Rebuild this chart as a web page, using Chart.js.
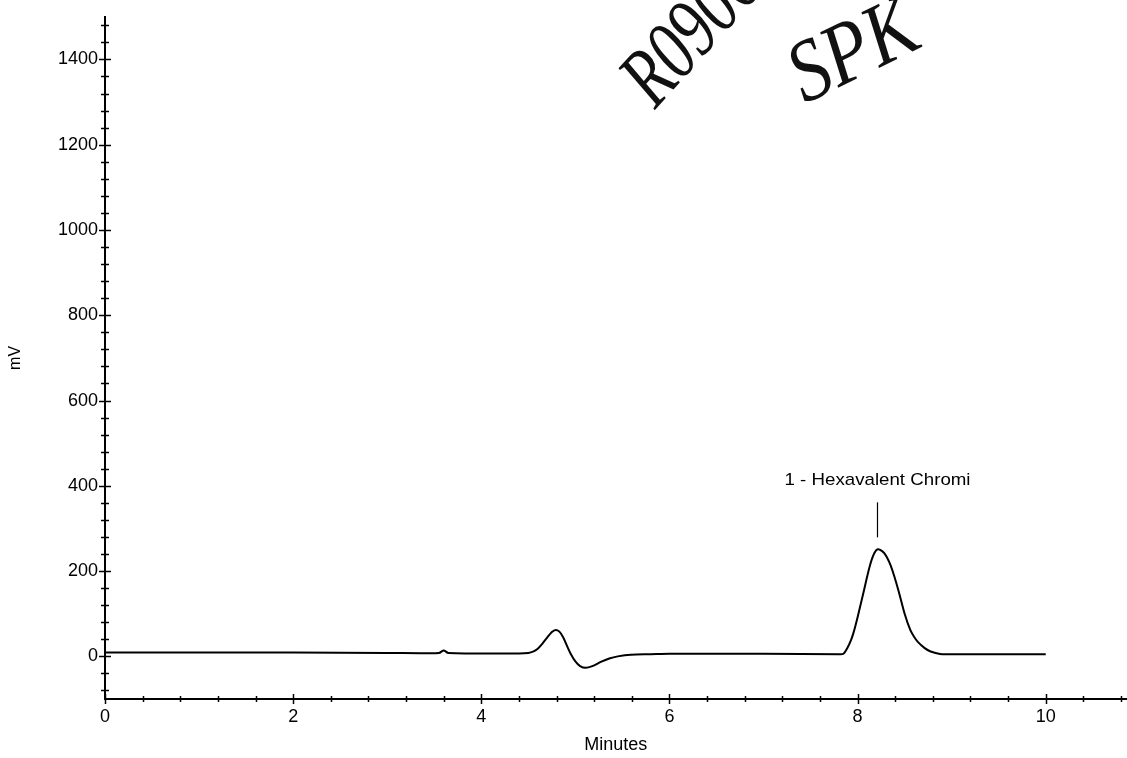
<!DOCTYPE html>
<html>
<head>
<meta charset="utf-8">
<script src="https://cdn.jsdelivr.net/npm/chart.js@4.4.1/dist/chart.umd.min.js"></script>
<style>
  html, body { margin: 0; padding: 0; background: #ffffff; }
  #wrap { width: 1127px; height: 758px; position: relative; }
</style>
</head>
<body>
<div id="wrap"><canvas id="c" width="1127" height="758"></canvas></div>
<script>
// ---- data ----
const times  = [0, 1, 2, 3, 3.55, 3.6, 3.65, 4.4, 4.5, 4.55, 4.6, 4.65, 4.7, 4.75, 4.79, 4.83, 4.87, 4.91, 4.95, 5.0, 5.05, 5.11, 5.18, 5.27, 5.36, 5.45, 5.59, 5.8, 6, 7, 7.8, 7.85, 7.89, 7.93, 7.96, 8.0, 8.05, 8.09, 8.12, 8.15, 8.18, 8.21, 8.24, 8.28, 8.31, 8.35, 8.39, 8.44, 8.5, 8.56, 8.6, 8.64, 8.71, 8.77, 8.83, 8.9, 9.5, 10];
const signal = [9, 9, 9, 8, 8, 14, 8, 7, 8, 11, 18, 30, 44, 57, 62, 58, 45, 25, 6, -12, -23, -27, -23, -13, -5, 0, 4, 5, 6, 6, 5, 6, 19, 38, 58, 92, 138, 176, 204, 227, 243, 251, 250, 243, 233, 214, 188, 150, 100, 62, 46, 34, 20, 12, 8, 5, 5, 5];

const yTickLabels = ['0', '200', '400', '600', '800', '1000', '1200', '1400'];
const xTickLabels = ['0', '2', '4', '6', '8', '10'];
const yMinorStep = 40;
const xMinorStep = 0.4;

const peakName = '1 - Hexavalent Chromi';
const peakTime = 8.22;
const peakValue = 251;

const xAxisTitle = 'Minutes';
const yAxisTitle = 'mV';
const handNote1 = 'R0906';
const handNote2 = 'SPK';

const FONT = '"Liberation Sans", Arial, sans-serif';

// ---- plugins ----
const crossTicks = {
  id: 'crossTicks',
  afterDraw(chart) {
    const ctx = chart.ctx;
    const xs = chart.scales.x, ys = chart.scales.y;
    ctx.save();
    ctx.strokeStyle = '#000';
    ctx.lineWidth = 1.5;
    ys.ticks.forEach(t => {
      const major = yTickLabels.includes(String(t.value));
      const py = Math.round(ys.getPixelForValue(t.value)) + 0.5;
      const h = major ? 6 : 4;
      ctx.beginPath();
      ctx.moveTo(xs.left - h, py);
      ctx.lineTo(xs.left + h, py);
      ctx.stroke();
    });
    xs.ticks.forEach(t => {
      const lbl = String(Math.round(t.value * 10) / 10);
      const major = xTickLabels.includes(lbl);
      const px = Math.round(xs.getPixelForValue(t.value)) + 0.5;
      const h = major ? 5 : 3;
      ctx.beginPath();
      ctx.moveTo(px, ys.bottom - h);
      ctx.lineTo(px, ys.bottom + h);
      ctx.stroke();
    });
    ctx.restore();
  }
};

const peakLabel = {
  id: 'peakLabel',
  afterDatasetsDraw(chart) {
    const ctx = chart.ctx;
    const xs = chart.scales.x, ys = chart.scales.y;
    const px = Math.round(xs.getPixelForValue(peakTime)) - 0.5;
    const py = ys.getPixelForValue(peakValue);
    ctx.save();
    ctx.strokeStyle = '#000';
    ctx.lineWidth = 1.2;
    ctx.beginPath();
    ctx.moveTo(px, py - 12);
    ctx.lineTo(px, py - 47);
    ctx.stroke();
    ctx.fillStyle = '#000';
    ctx.font = '17px ' + FONT;
    ctx.textAlign = 'center';
    ctx.textBaseline = 'alphabetic';
    ctx.save();
    ctx.translate(px, py - 64);
    ctx.scale(1.1, 1);
    ctx.fillText(peakName, 0, 0);
    ctx.restore();
    ctx.restore();
  }
};

const handwriting = {
  id: 'handwriting',
  afterDraw(chart) {
    const ctx = chart.ctx;
    ctx.save();
    ctx.fillStyle = '#111';
    ctx.textBaseline = 'alphabetic';
    ctx.save();
    ctx.font = 'italic 84px "Liberation Serif", serif';
    ctx.translate(655, 110);
    ctx.rotate(-48 * Math.PI / 180);
    ctx.scale(0.75, 1);
    ctx.fillText(handNote1, 0, 0);
    ctx.restore();
    ctx.save();
    ctx.font = 'italic 88px "Liberation Serif", serif';
    ctx.translate(805, 104);
    ctx.rotate(-26 * Math.PI / 180);
    ctx.scale(0.85, 1);
    ctx.fillText(handNote2, 0, 0);
    ctx.restore();
    ctx.restore();
  }
};

const points = times.map((t, i) => ({ x: t, y: signal[i] }));

new Chart(document.getElementById('c'), {
  type: 'line',
  data: {
    datasets: [{
      data: points,
      borderColor: '#000',
      borderWidth: 2,
      pointRadius: 0,
      fill: false,
      tension: 0.3
    }]
  },
  options: {
    responsive: false,
    animation: false,
    events: [],
    layout: { padding: { left: 0, right: 0, top: 12, bottom: 0 } },
    plugins: { legend: { display: false }, tooltip: { enabled: false }, title: { display: false } },
    scales: {
      x: {
        type: 'linear',
        min: 0,
        max: 10.86,
        afterFit(scale) { scale.height = 59; },
        afterBuildTicks(scale) {
          const arr = [];
          for (let k = 0; k * xMinorStep <= scale.max + 1e-9; k++) {
            arr.push({ value: Math.round(k * xMinorStep * 10) / 10 });
          }
          scale.ticks = arr;
        },
        grid: { display: false, tickLength: 1 },
        border: { display: true, color: '#000', width: 2 },
        ticks: {
          autoSkip: false,
          maxRotation: 0,
          padding: 6,
          color: '#000',
          font: { family: FONT, size: 18 },
          callback(v) {
            const s = String(Math.round(v * 10) / 10);
            return xTickLabels.includes(s) ? s : '';
          }
        },
        title: {
          display: true,
          text: xAxisTitle,
          color: '#000',
          font: { family: FONT, size: 18 },
          padding: { top: 0, bottom: 2 }
        }
      },
      y: {
        type: 'linear',
        min: -100,
        max: 1500,
        afterFit(scale) { scale.width = 105; },
        afterBuildTicks(scale) {
          const arr = [];
          for (let v = -80; v <= 1480; v += yMinorStep) arr.push({ value: v });
          scale.ticks = arr;
        },
        grid: { display: false, tickLength: 1 },
        border: { display: true, color: '#000', width: 2 },
        ticks: {
          autoSkip: false,
          padding: 6,
          color: '#000',
          font: { family: FONT, size: 18 },
          callback(v) {
            const s = String(v);
            return yTickLabels.includes(s) ? s : '';
          }
        },
        title: {
          display: true,
          text: yAxisTitle,
          color: '#000',
          font: { family: FONT, size: 16 },
          padding: { top: 6, bottom: 0 }
        }
      }
    }
  },
  plugins: [crossTicks, peakLabel, handwriting]
});
</script>
</body>
</html>
